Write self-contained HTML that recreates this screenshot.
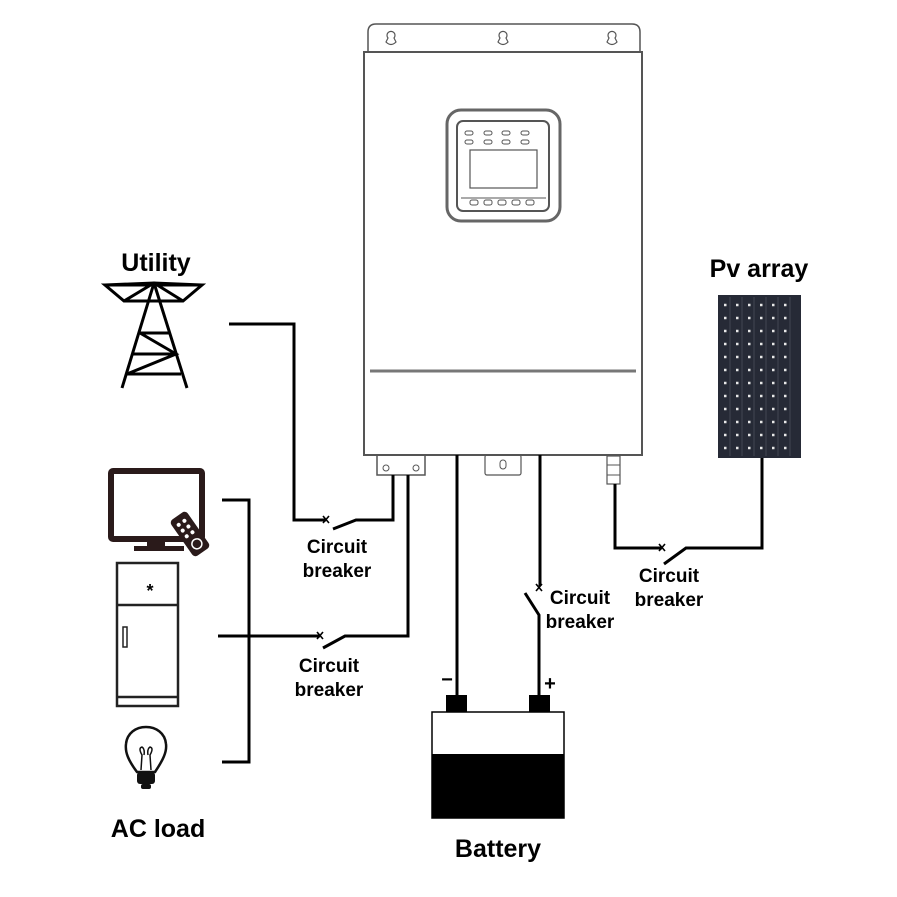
<!DOCTYPE html>
<html><head><meta charset="utf-8"><style>
html,body{margin:0;padding:0;background:#fff}
svg{display:block}
text{font-family:"Liberation Sans",Arial,sans-serif;font-weight:bold;fill:#000}
</style></head><body>
<svg width="897" height="897" viewBox="0 0 897 897" xmlns="http://www.w3.org/2000/svg">
<g fill="none" stroke="#555" stroke-width="1.5">
<path d="M368,52 L368,32 Q368,24 376,24 L632,24 Q640,24 640,32 L640,52"/>
<path d="M388,38 A4,4 0 1,1 394,38 L396,42 Q391,47 386,42 Z" stroke-width="1.2"/>
<path d="M500,38 A4,4 0 1,1 506,38 L508,42 Q503,47 498,42 Z" stroke-width="1.2"/>
<path d="M609,38 A4,4 0 1,1 615,38 L617,42 Q612,47 607,42 Z" stroke-width="1.2"/>
<rect x="364" y="52" width="278" height="403" stroke-width="2"/>
<line x1="370" y1="371" x2="636" y2="371" stroke-width="3" stroke="#777"/>
<rect x="447" y="110" width="113" height="111" rx="14" stroke-width="3" stroke="#666"/>
<rect x="457" y="121" width="92" height="90" rx="6" stroke-width="2"/>
<rect x="470" y="150" width="67" height="38" stroke-width="1.2"/>
<rect x="465" y="131" width="8" height="4" rx="2" stroke-width="1"/><rect x="465" y="140" width="8" height="4" rx="2" stroke-width="1"/>
<rect x="484" y="131" width="8" height="4" rx="2" stroke-width="1"/><rect x="484" y="140" width="8" height="4" rx="2" stroke-width="1"/>
<rect x="502" y="131" width="8" height="4" rx="2" stroke-width="1"/><rect x="502" y="140" width="8" height="4" rx="2" stroke-width="1"/>
<rect x="521" y="131" width="8" height="4" rx="2" stroke-width="1"/><rect x="521" y="140" width="8" height="4" rx="2" stroke-width="1"/>
<line x1="461" y1="198" x2="546" y2="198" stroke-width="1"/>
<rect x="470" y="200" width="8" height="5" rx="2" stroke-width="1"/><rect x="484" y="200" width="8" height="5" rx="2" stroke-width="1"/><rect x="498" y="200" width="8" height="5" rx="2" stroke-width="1"/><rect x="512" y="200" width="8" height="5" rx="2" stroke-width="1"/><rect x="526" y="200" width="8" height="5" rx="2" stroke-width="1"/>
<rect x="377" y="455" width="48" height="20" stroke-width="1.5"/>
<circle cx="386" cy="468" r="3" stroke-width="1"/><circle cx="416" cy="468" r="3" stroke-width="1"/>
<rect x="485" y="455" width="36" height="20" rx="2" stroke-width="1.2"/>
<rect x="500" y="460" width="6" height="9" rx="3" stroke-width="1"/>
<rect x="607" y="456" width="13" height="28" stroke-width="1.2"/>
<line x1="607" y1="465" x2="620" y2="465" stroke-width="1"/><line x1="607" y1="475" x2="620" y2="475" stroke-width="1"/>
</g>
<g fill="none" stroke="#000" stroke-width="3">
<path d="M229,324 L294,324 L294,520 L326,520"/>
<path d="M333,529 L356,520 L393,520 L393,475"/>
<path d="M218,636 L320,636"/>
<path d="M323,648 L345,636 L408,636 L408,475"/>
<path d="M222,500 L249,500 L249,762 L222,762"/>
<path d="M457,455 L457,700"/>
<path d="M540,455 L540,586"/>
<path d="M525,593 L539,615 L539,700"/>
<path d="M615,484 L615,548 L662,548"/>
<path d="M664,564 L686,548 L762,548 L762,456"/>
</g>
<g stroke="#000" stroke-width="1.6">
<path d="M323,516 l6,7 M329,516 l-6,7"/>
<path d="M317,632 l6,7 M323,632 l-6,7"/>
<path d="M536,584 l6,7 M542,584 l-6,7"/>
<path d="M659,544 l6,7 M665,544 l-6,7"/>
</g>
<g font-size="19" text-anchor="middle">
<text x="337" y="553">Circuit</text><text x="337" y="577">breaker</text>
<text x="329" y="672">Circuit</text><text x="329" y="696">breaker</text>
<text x="580" y="604">Circuit</text><text x="580" y="628">breaker</text>
<text x="669" y="582">Circuit</text><text x="669" y="606">breaker</text>
</g>
<g font-size="25" text-anchor="middle">
<text x="156" y="271">Utility</text>
<text x="759" y="277">Pv array</text>
<text x="158" y="837">AC load</text>
<text x="498" y="857">Battery</text>
</g>
<text x="447" y="686" font-size="20" text-anchor="middle" font-weight="normal">−</text>
<text x="550" y="690" font-size="20" text-anchor="middle" font-weight="normal">+</text>
<rect x="446" y="695" width="21" height="18" fill="#000"/>
<rect x="529" y="695" width="21" height="18" fill="#000"/>
<rect x="432" y="712" width="132" height="106" fill="#fff" stroke="#000" stroke-width="1.5"/>
<rect x="432" y="754" width="132" height="64" fill="#000"/>
<rect x="718" y="295" width="83" height="163" fill="#262a36"/>
<g stroke="#4a4e5a" stroke-width="0.8">
<line x1="730" y1="297" x2="730" y2="456"/><line x1="742" y1="297" x2="742" y2="456"/><line x1="754" y1="297" x2="754" y2="456"/><line x1="766" y1="297" x2="766" y2="456"/><line x1="778" y1="297" x2="778" y2="456"/><line x1="790" y1="297" x2="790" y2="456"/>
</g>
<path d="M724,305h72M724,318h72M724,331h72M724,344h72M724,357h72M724,370h72M724,383h72M724,396h72M724,409h72M724,422h72M724,435h72M724,448h72" stroke="#e8e8e8" stroke-width="2.5" stroke-dasharray="2.5 9.5" fill="none"/>
<g fill="none" stroke="#000" stroke-width="3">
<path d="M105,285 L202,285 L183,301 L124,301 Z"/>
<path d="M105,285 L154,283 L183,301 M202,285 L154,283 L124,301"/>
<path d="M154,283 L122,388 M154,283 L187,388"/>
<path d="M140,333 L169,333 M133,354 L176,354 M127,374 L181,374"/>
<path d="M140,333 L176,354 L127,374"/>
</g>
<rect x="111" y="471" width="91" height="68" fill="none" stroke="#2a1a1a" stroke-width="6" rx="2"/>
<rect x="147" y="541" width="18" height="8" fill="#2a1a1a"/>
<rect x="134" y="546" width="50" height="5" fill="#2a1a1a"/>
<g transform="translate(190,534) rotate(-35)">
<rect x="-10" y="-22" width="20" height="44" rx="4" fill="#2a1a1a"/>
<circle cx="-4" cy="-14" r="2" fill="#fff"/><circle cx="3" cy="-14" r="2" fill="#fff"/>
<circle cx="-4" cy="-7" r="2" fill="#fff"/><circle cx="3" cy="-7" r="2" fill="#fff"/>
<circle cx="-4" cy="0" r="2" fill="#fff"/><circle cx="3" cy="0" r="2" fill="#fff"/>
<circle cx="0" cy="12" r="5" fill="none" stroke="#fff" stroke-width="1.5"/>
</g>
<g fill="none" stroke="#222" stroke-width="2.5">
<rect x="117" y="563" width="61" height="143"/>
<line x1="117" y1="605" x2="178" y2="605"/>
<line x1="117" y1="697" x2="178" y2="697"/>
<rect x="123" y="627" width="4" height="20" stroke-width="1.5"/>
</g>
<text x="150" y="597" font-size="18" text-anchor="middle">*</text>
<g fill="none" stroke="#111" stroke-width="2.5">
<path d="M137,772 C128,760 125,752 126,744 C127,733 136,727 146,727 C156,727 165,733 166,744 C167,752 163,760 155,772 Z"/>
<path d="M141,770 L142,755 Q138,748 142,747 Q145,749 144,755 M151,770 L150,755 Q154,748 150,747 Q147,749 148,755" stroke-width="1.5"/>
</g>
<rect x="137" y="772" width="18" height="12" rx="3" fill="#111"/>
<rect x="141" y="784" width="10" height="5" rx="2" fill="#111"/>
</svg>
</body></html>
